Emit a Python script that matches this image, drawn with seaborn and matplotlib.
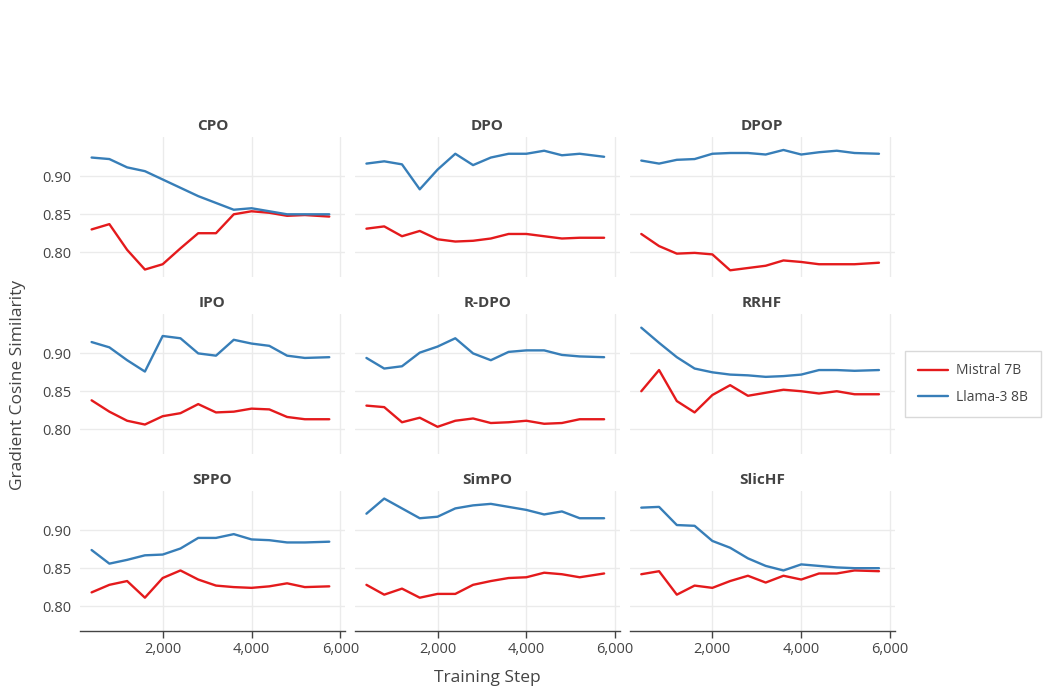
import numpy as np
import pandas as pd
import matplotlib
matplotlib.use("Agg")
import matplotlib.pyplot as plt
import seaborn as sns
from matplotlib.ticker import FuncFormatter, FixedLocator
from matplotlib.lines import Line2D

# Training steps at which gradient similarity was logged
steps = [400, 800, 1200, 1600, 2000, 2400, 2800, 3200, 3600, 4000, 4400, 4800, 5200, 5750]

methods = ["CPO", "DPO", "DPOP", "IPO", "R-DPO", "RRHF", "SPPO", "SimPO", "SlicHF"]
models = ["Mistral 7B", "Llama-3 8B"]

cpo_mistral = [0.830, 0.837, 0.803, 0.777, 0.784, 0.805, 0.825, 0.825, 0.850, 0.854, 0.852, 0.848, 0.849, 0.847]
cpo_llama = [0.925, 0.923, 0.912, 0.907, 0.896, 0.885, 0.874, 0.865, 0.856, 0.858, 0.854, 0.850, 0.850, 0.850]

dpo_mistral = [0.831, 0.834, 0.821, 0.828, 0.817, 0.814, 0.815, 0.818, 0.824, 0.824, 0.821, 0.818, 0.819, 0.819]
dpo_llama = [0.917, 0.920, 0.916, 0.883, 0.909, 0.930, 0.915, 0.925, 0.930, 0.930, 0.934, 0.928, 0.930, 0.926]

dpop_mistral = [0.824, 0.808, 0.798, 0.799, 0.797, 0.776, 0.779, 0.782, 0.789, 0.787, 0.784, 0.784, 0.784, 0.786]
dpop_llama = [0.921, 0.917, 0.922, 0.923, 0.930, 0.931, 0.931, 0.929, 0.935, 0.929, 0.932, 0.934, 0.931, 0.930]

ipo_mistral = [0.838, 0.823, 0.811, 0.806, 0.817, 0.821, 0.833, 0.822, 0.823, 0.827, 0.826, 0.816, 0.813, 0.813]
ipo_llama = [0.915, 0.908, 0.891, 0.876, 0.923, 0.920, 0.900, 0.897, 0.918, 0.913, 0.910, 0.897, 0.894, 0.895]

rdpo_mistral = [0.831, 0.829, 0.809, 0.815, 0.803, 0.811, 0.814, 0.808, 0.809, 0.811, 0.807, 0.808, 0.813, 0.813]
rdpo_llama = [0.894, 0.880, 0.883, 0.901, 0.909, 0.920, 0.900, 0.891, 0.902, 0.904, 0.904, 0.898, 0.896, 0.895]

rrhf_mistral = [0.850, 0.878, 0.837, 0.822, 0.845, 0.858, 0.844, 0.848, 0.852, 0.850, 0.847, 0.850, 0.846, 0.846]
rrhf_llama = [0.934, 0.914, 0.895, 0.880, 0.875, 0.872, 0.871, 0.869, 0.870, 0.872, 0.878, 0.878, 0.877, 0.878]

sppo_mistral = [0.818, 0.828, 0.833, 0.811, 0.837, 0.847, 0.835, 0.827, 0.825, 0.824, 0.826, 0.830, 0.825, 0.826]
sppo_llama = [0.874, 0.856, 0.861, 0.867, 0.868, 0.876, 0.890, 0.890, 0.895, 0.888, 0.887, 0.884, 0.884, 0.885]

simpo_mistral = [0.828, 0.815, 0.823, 0.811, 0.816, 0.816, 0.828, 0.833, 0.837, 0.838, 0.844, 0.842, 0.838, 0.843]
simpo_llama = [0.922, 0.942, 0.929, 0.916, 0.918, 0.929, 0.933, 0.935, 0.931, 0.927, 0.921, 0.925, 0.916, 0.916]

slichf_mistral = [0.842, 0.846, 0.815, 0.827, 0.824, 0.833, 0.840, 0.831, 0.840, 0.835, 0.843, 0.843, 0.847, 0.846]
slichf_llama = [0.930, 0.931, 0.907, 0.906, 0.886, 0.877, 0.863, 0.853, 0.847, 0.855, 0.853, 0.851, 0.850, 0.850]

series = {
    "CPO": (cpo_mistral, cpo_llama),
    "DPO": (dpo_mistral, dpo_llama),
    "DPOP": (dpop_mistral, dpop_llama),
    "IPO": (ipo_mistral, ipo_llama),
    "R-DPO": (rdpo_mistral, rdpo_llama),
    "RRHF": (rrhf_mistral, rrhf_llama),
    "SPPO": (sppo_mistral, sppo_llama),
    "SimPO": (simpo_mistral, simpo_llama),
    "SlicHF": (slichf_mistral, slichf_llama),
}

rows = []
for m in methods:
    for model, vals in zip(models, series[m]):
        for s, v in zip(steps, vals):
            rows.append({"method": m, "model": model, "step": s, "sim": v})
df = pd.DataFrame(rows)

colors = {"Mistral 7B": "#e41a1c", "Llama-3 8B": "#377eb8"}
text_color = "#444444"

sns.set_theme(style="whitegrid")
plt.rcParams["font.family"] = ["Open Sans", "DejaVu Sans"]
plt.rcParams["grid.color"] = "#ebebeb"
plt.rcParams["grid.linewidth"] = 1.0

g = sns.relplot(
    data=df, x="step", y="sim", hue="model", col="method", col_wrap=3,
    kind="line", palette=colors, linewidth=1.7, legend=False,
    col_order=methods, hue_order=models,
    facet_kws={"sharex": True, "sharey": True},
)
fig = g.figure
fig.set_size_inches(10.45, 6.89)
fig.set_dpi(100)
fig.subplots_adjust(left=0.0766, right=0.856, bottom=0.0842, top=0.801,
                    wspace=0.038, hspace=0.264)

g.set_titles("{col_name}", fontweight="bold", color=text_color, size=11, pad=5)
g.set_axis_labels("", "")

axes = g.axes.flatten()
for i, ax in enumerate(axes):
    ax.set_xlim(140, 6100)
    ax.set_ylim(0.767, 0.952)
    ax.xaxis.set_major_locator(FixedLocator([2000, 4000, 6000]))
    ax.yaxis.set_major_locator(FixedLocator([0.80, 0.85, 0.90]))
    ax.xaxis.set_major_formatter(FuncFormatter(lambda v, p: f"{int(v):,}"))
    ax.yaxis.set_major_formatter(FuncFormatter(lambda v, p: f"{v:.2f}"))
    for sp in ax.spines.values():
        sp.set_visible(False)
    ax.tick_params(axis="y", length=0, labelsize=10.5, labelcolor=text_color, pad=6)
    ax.tick_params(axis="x", labelsize=10.5, labelcolor=text_color)
    if i >= 6:
        ax.spines["bottom"].set_visible(True)
        ax.spines["bottom"].set_color(text_color)
        ax.spines["bottom"].set_linewidth(1.0)
        ax.tick_params(axis="x", direction="out", length=5, width=1.0,
                       color=text_color, bottom=True, pad=3)
    else:
        ax.tick_params(axis="x", length=0)

fig.text(0.4665, 0.016, "Training Step", ha="center", va="center",
         fontsize=12.5, color=text_color)
fig.text(0.017, 1 - 385 / 689, "Gradient Cosine Similarity", ha="center",
         va="center", rotation=90, fontsize=12.5, color=text_color)

handles = [Line2D([0], [0], color=colors[m], linewidth=1.7) for m in models]
leg = fig.legend(handles, models, loc="center left",
                 bbox_to_anchor=(905 / 1045, 1 - 384 / 689),
                 borderaxespad=0.0,
                 frameon=True, fancybox=False, edgecolor="#d0d0d0",
                 fontsize=10, handlelength=2.2, handletextpad=0.6,
                 borderpad=0.9, labelspacing=0.8)
for t in leg.get_texts():
    t.set_color(text_color)
leg.get_frame().set_linewidth(1.0)

fig.savefig("out.png", dpi=100)
